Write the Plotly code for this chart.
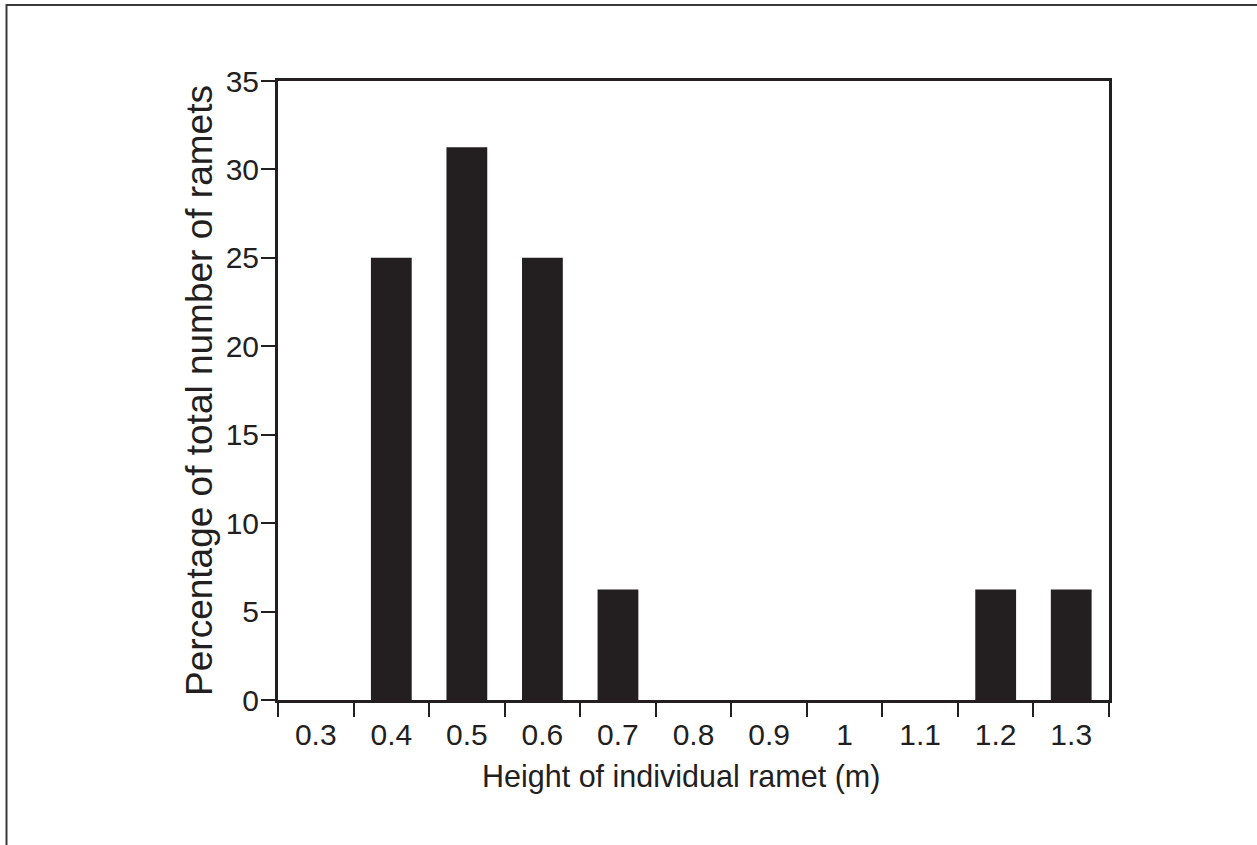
import plotly.graph_objects as go

heights = ["0.3", "0.4", "0.5", "0.6", "0.7", "0.8", "0.9", "1", "1.1", "1.2", "1.3"]
percentages = [0, 25, 31.25, 25, 6.25, 0, 0, 0, 0, 6.25, 6.25]
y_ticks = [0, 5, 10, 15, 20, 25, 30, 35]
x_title = "Height of individual ramet (m)"
y_title = "Percentage of total number of ramets"

ink = "#231f20"
font_family = "Liberation Sans, Arial, Helvetica, sans-serif"

fig = go.Figure()
fig.add_trace(go.Bar(
    x=heights, y=percentages,
    marker=dict(color=ink, line=dict(width=0)),
    width=0.54,
    showlegend=False,
))

fig.update_layout(
    width=1257, height=845,
    margin=dict(l=278, r=148, t=81, b=145, autoexpand=False),
    paper_bgcolor="white", plot_bgcolor="white",
    font=dict(family=font_family, color=ink, size=30),
    xaxis=dict(
        type="category",
        tickson="boundaries",
        ticks="outside", ticklen=14, tickwidth=1.5, tickcolor=ink,
        showline=True, linecolor=ink, linewidth=3, mirror=True,
        showgrid=False, zeroline=False,
        tickfont=dict(size=30, color=ink),
        ticklabelstandoff=6,
        range=[-0.5, 10.5],
    ),
    yaxis=dict(
        range=[0, 35],
        tickvals=y_ticks,
        ticks="outside", ticklen=14, tickwidth=1.5, tickcolor=ink,
        showline=True, linecolor=ink, linewidth=3, mirror=True,
        showgrid=False, zeroline=False,
        tickfont=dict(size=30, color=ink),
        ticklabelstandoff=-4,
        title=dict(text=y_title, font=dict(size=37, color=ink), standoff=2),
    ),
    annotations=[
        dict(text=x_title, xref="paper", yref="paper",
             x=(681 - 278) / 831, y=(700 - 776) / 619,
             xanchor="center", yanchor="middle", showarrow=False,
             font=dict(size=30.5, color=ink, family=font_family)),
    ],
    shapes=[
        dict(type="rect", xref="paper", yref="paper",
             x0=(6.5 - 278) / 831, x1=1.2, y0=-0.3, y1=(700 - 5) / 619,
             line=dict(color="#3a3a3a", width=2), fillcolor="rgba(0,0,0,0)", layer="below"),
    ],
)

fig.write_html("out.html", config={"displayModeBar": False},
               post_script="document.body.style.margin='0';")
